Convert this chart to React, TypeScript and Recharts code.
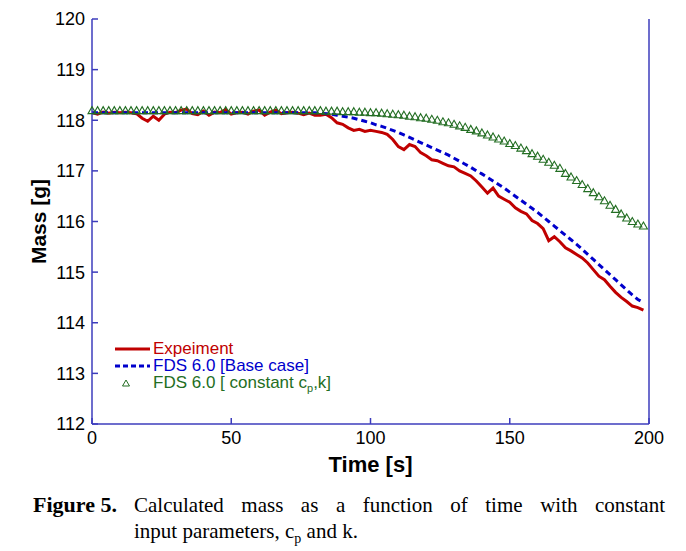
import React from 'react';
import { LineChart, Line, XAxis, YAxis, Legend, Label } from 'recharts';

// time [s], sampled every 2 s
const time = [
  0, 2, 4, 6, 8, 10, 12, 14, 16, 18, 20, 22, 24, 26, 28, 30, 32, 34, 36, 38,
  40, 42, 44, 46, 48, 50, 52, 54, 56, 58, 60, 62, 64, 66, 68, 70, 72, 74, 76, 78,
  80, 82, 84, 86, 88, 90, 92, 94, 96, 98, 100, 102, 104, 106, 108, 110, 112, 114, 116, 118,
  120, 122, 124, 126, 128, 130, 132, 134, 136, 138, 140, 142, 144, 146, 148, 150, 152, 154, 156, 158,
  160, 162, 164, 166, 168, 170, 172, 174, 176, 178, 180, 182, 184, 186, 188, 190, 192, 194, 196, 198,
];

const experiment = [
  118.15, 118.12, 118.16, 118.14, 118.16, 118.15, 118.16, 118.15, 118.13, 118.04,
  117.98, 118.08, 118.0, 118.12, 118.16, 118.15, 118.2, 118.22, 118.13, 118.11,
  118.18, 118.1, 118.16, 118.15, 118.21, 118.12, 118.15, 118.16, 118.12, 118.18,
  118.2, 118.1, 118.16, 118.2, 118.13, 118.15, 118.16, 118.14, 118.11, 118.14,
  118.1, 118.1, 118.12, 118.05, 117.95, 117.92, 117.85, 117.8, 117.82, 117.78,
  117.8, 117.78, 117.76, 117.72, 117.62, 117.48, 117.42, 117.52, 117.48, 117.36,
  117.3, 117.22, 117.2, 117.15, 117.1, 117.08, 117.0, 116.95, 116.9, 116.8,
  116.68, 116.56, 116.66, 116.5, 116.44, 116.38, 116.27, 116.2, 116.15, 116.02,
  115.96, 115.86, 115.62, 115.7, 115.6, 115.48, 115.42, 115.35, 115.28, 115.18,
  115.05, 114.92, 114.85, 114.72, 114.6, 114.5, 114.42, 114.33, 114.3, 114.25,
];

const fdsBase = [
  118.15, 118.15, 118.15, 118.15, 118.15, 118.15, 118.15, 118.15, 118.15, 118.15,
  118.15, 118.15, 118.15, 118.15, 118.15, 118.15, 118.15, 118.15, 118.15, 118.15,
  118.15, 118.15, 118.15, 118.15, 118.15, 118.15, 118.15, 118.15, 118.15, 118.15,
  118.15, 118.15, 118.15, 118.15, 118.15, 118.15, 118.15, 118.15, 118.15, 118.15,
  118.15, 118.14, 118.13, 118.12, 118.1, 118.08, 118.06, 118.04, 118.01, 117.98,
  117.95, 117.91, 117.88, 117.84, 117.8, 117.76, 117.71, 117.66, 117.61, 117.56,
  117.51, 117.46, 117.41, 117.36, 117.31, 117.25, 117.19, 117.13, 117.07, 117.0,
  116.94, 116.87, 116.8, 116.73, 116.66, 116.58, 116.5, 116.42, 116.34, 116.26,
  116.18, 116.09, 116.0, 115.91, 115.82, 115.73, 115.64, 115.55, 115.45, 115.35,
  115.25, 115.15, 115.05, 114.95, 114.85, 114.75, 114.65, 114.55, 114.46, 114.4,
];

const fdsConstant = [
  118.18, 118.18, 118.18, 118.18, 118.18, 118.18, 118.18, 118.18, 118.18, 118.18,
  118.18, 118.18, 118.18, 118.18, 118.18, 118.18, 118.18, 118.18, 118.18, 118.18,
  118.18, 118.18, 118.18, 118.18, 118.18, 118.18, 118.18, 118.18, 118.18, 118.18,
  118.18, 118.18, 118.18, 118.18, 118.18, 118.18, 118.18, 118.18, 118.18, 118.18,
  118.18, 118.18, 118.17, 118.17, 118.17, 118.16, 118.16, 118.16, 118.15, 118.15,
  118.14, 118.14, 118.13, 118.12, 118.11, 118.1, 118.09, 118.07, 118.06, 118.04,
  118.03, 118.01, 117.99, 117.96, 117.94, 117.91, 117.88, 117.85, 117.81, 117.78,
  117.74, 117.7, 117.66, 117.62, 117.58, 117.53, 117.49, 117.44, 117.39, 117.33,
  117.28, 117.22, 117.16, 117.1, 117.04, 116.94, 116.87, 116.8, 116.72, 116.64,
  116.56, 116.48, 116.4, 116.31, 116.23, 116.14, 116.06, 115.99, 115.94, 115.9,
];

const xTicks = [0, 50, 100, 150, 200];
const yTicks = [112, 113, 114, 115, 116, 117, 118, 119, 120];

const data = time.map((t, i) => ({
  t,
  exp: experiment[i],
  base: fdsBase[i],
  cst: fdsConstant[i],
}));

const AXIS = '#3c3cbc';
const RED = '#c00000';
const BLUE = '#0000cc';
const GREEN = '#236e23';
const SANS = '"Liberation Sans", Arial, sans-serif';

function triangle(props: any) {
  const { cx, cy, index } = props;
  if (cx == null || cy == null) return <g key={index} />;
  return (
    <path
      key={index}
      d={`M${cx},${cy - 4.5} L${cx + 4},${cy + 2.5} L${cx - 4},${cy + 2.5} Z`}
      fill="none"
      stroke={GREEN}
      strokeWidth={1.1}
    />
  );
}

const yTitle = (props: any) => {
  const vb = props.viewBox;
  const cy = vb.y + vb.height / 2;
  return (
    <text
      x={38}
      y={cy}
      transform={`rotate(-90 38 ${cy})`}
      textAnchor="middle"
      dominantBaseline="central"
      fontFamily={SANS}
      fontSize={21}
      fontWeight="bold"
      fill="#000"
    >
      Mass [g]
    </text>
  );
};

const row = { display: 'flex', alignItems: 'center', height: 17 } as const;

const renderLegend = () => (
  <div style={{ fontFamily: SANS, fontSize: 17, lineHeight: '17px' }}>
    <div style={{ ...row, color: RED }}>
      <svg width={40} height={17}>
        <line x1={2} x2={37} y1={9} y2={9} stroke={RED} strokeWidth={3} />
      </svg>
      Expeiment
    </div>
    <div style={{ ...row, color: BLUE }}>
      <svg width={40} height={17}>
        <line x1={2} x2={37} y1={9} y2={9} stroke={BLUE} strokeWidth={3} strokeDasharray="5 3" />
      </svg>
      FDS 6.0 [Base case]
    </div>
    <div style={{ ...row, color: GREEN }}>
      <svg width={40} height={17}>
        <path d="M13,6 L16.5,12 L9.5,12 Z" fill="none" stroke={GREEN} strokeWidth={1} />
      </svg>
      <span>
        FDS 6.0 [ constant c<sub style={{ fontSize: 11, lineHeight: 0 }}>p</sub>,k]
      </span>
    </div>
  </div>
);

export default function App() {
  return (
    <div
      style={{
        position: 'absolute',
        left: 0,
        top: 0,
        width: 686,
        height: 551,
        background: '#fff',
      }}
    >
      <LineChart
        width={686}
        height={480}
        data={data}
        margin={{ top: 19, right: 32, bottom: 6, left: 0 }}
      >
        <XAxis
          dataKey="t"
          type="number"
          domain={[0, 200]}
          ticks={xTicks}
          height={50}
          stroke={AXIS}
          strokeWidth={1.5}
          tickSize={-6}
          tickMargin={13}
          tick={{ fill: '#000', fontSize: 18, fontFamily: SANS }}
          label={{
            value: 'Time [s]',
            position: 'insideBottom',
            offset: 2,
            fill: '#000',
            fontSize: 22,
            fontWeight: 'bold',
            fontFamily: SANS,
          }}
        />
        <XAxis
          xAxisId="top"
          orientation="top"
          dataKey="t"
          type="number"
          domain={[0, 200]}
          ticks={xTicks}
          height={0}
          stroke={AXIS}
          strokeWidth={1.5}
          tickSize={-6}
          tick={false}
        />
        <YAxis
          domain={[112, 120]}
          ticks={yTicks}
          width={92}
          stroke={AXIS}
          strokeWidth={1.5}
          tickSize={-6}
          tickMargin={13}
          tick={{ fill: '#000', fontSize: 18, fontFamily: SANS }}
        >
          <Label content={yTitle} />
        </YAxis>
        <YAxis
          yAxisId="right"
          orientation="right"
          domain={[112, 120]}
          ticks={yTicks}
          width={5}
          stroke={AXIS}
          strokeWidth={1.5}
          tickSize={-6}
          tick={false}
        />
        <Legend
          layout="vertical"
          align="center"
          verticalAlign="middle"
          content={renderLegend}
          wrapperStyle={{ left: 113, top: 340, width: 'auto' }}
        />
        <Line
          type="linear"
          dataKey="exp"
          stroke={RED}
          strokeWidth={3}
          dot={false}
          activeDot={false}
          isAnimationActive={false}
        />
        <Line
          type="linear"
          dataKey="base"
          stroke={BLUE}
          strokeWidth={3}
          strokeDasharray="6 4"
          dot={false}
          activeDot={false}
          isAnimationActive={false}
        />
        <Line
          type="linear"
          dataKey="cst"
          stroke="none"
          dot={triangle}
          activeDot={false}
          isAnimationActive={false}
        />
      </LineChart>
      <div
        style={{
          position: 'absolute',
          left: 33,
          top: 492,
          width: 632,
          fontFamily: '"Liberation Serif", "Times New Roman", serif',
          fontSize: 21,
          lineHeight: '26px',
          color: '#000',
        }}
      >
        <div style={{ display: 'flex' }}>
          <b style={{ width: 101, flex: 'none', fontSize: 22 }}>Figure 5.</b>
          <div style={{ flex: 1, textAlign: 'justify', textAlignLast: 'justify' }}>
            Calculated mass as a function of time with constant
          </div>
        </div>
        <div style={{ paddingLeft: 101 }}>
          input parameters, c<sub style={{ fontSize: 14, lineHeight: 0 }}>p</sub> and k.
        </div>
      </div>
    </div>
  );
}
